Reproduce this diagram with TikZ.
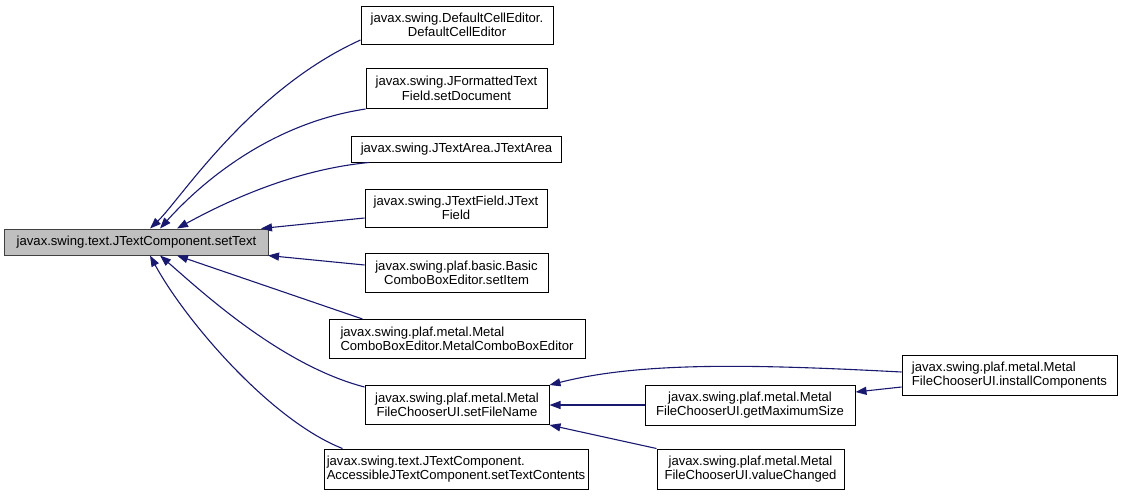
\documentclass[tikz,border=0pt]{standalone}
\usepackage{fontspec}
\setmainfont{Liberation Sans}
\usetikzlibrary{arrows.meta}
\definecolor{edgecol}{HTML}{191970}
\definecolor{rootfill}{HTML}{BFBFBF}
\begin{document}
\begin{tikzpicture}[x=1pt,y=-1pt,
  box/.style={draw=black, line width=1pt, fill=white, inner sep=0pt, align=center,
    font=\fontsize{13.1}{14.5}\selectfont},
  lbox/.style={box, align=left},
  edge/.style={draw=edgecol, line width=1.1pt, {Triangle[length=11pt,width=8pt]}-}
]
\useasboundingbox (0,0) rectangle (1123,496);
\node[box, fill=rootfill, draw=black!75, minimum width=264pt, minimum height=26pt] (root) at (136.5,242) {javax.swing.text.JTextComponent.setText};
\node[box, minimum width=192pt, minimum height=38pt] (n1) at (457,25) {javax.swing.DefaultCellEditor.\\DefaultCellEditor};
\node[box, minimum width=181pt, minimum height=40pt] (n2) at (456.5,88.5) {javax.swing.JFormattedText\\Field.setDocument};
\node[box, minimum width=210pt, minimum height=26pt] (n3) at (456.5,149) {javax.swing.JTextArea.JTextArea};
\node[box, minimum width=182pt, minimum height=38pt] (n4) at (456,208) {javax.swing.JTextField.JText\\Field};
\node[box, minimum width=183pt, minimum height=39pt] (n5) at (456.5,273) {javax.swing.plaf.basic.Basic\\ComboBoxEditor.setItem};
\node[lbox, minimum width=256pt, minimum height=39pt] (n6) at (457,339) {javax.swing.plaf.metal.Metal\\ComboBoxEditor.MetalComboBoxEditor};
\node[box, minimum width=184pt, minimum height=39pt] (n7) at (457,405) {javax.swing.plaf.metal.Metal\\FileChooserUI.setFileName};
\node[lbox, minimum width=264pt, minimum height=40pt] (n8) at (456,469) {javax.swing.text.JTextComponent.\\AccessibleJTextComponent.setTextContents};
\node[box, minimum width=210pt, minimum height=40pt] (n9) at (750,405) {javax.swing.plaf.metal.Metal\\FileChooserUI.getMaximumSize};
\node[box, minimum width=187pt, minimum height=40pt] (n10) at (750.5,469) {javax.swing.plaf.metal.Metal\\FileChooserUI.valueChanged};
\node[lbox, minimum width=215pt, minimum height=40pt] (n11) at (1009.5,375) {javax.swing.plaf.metal.Metal\\FileChooserUI.installComponents};

\coordinate (t1) at ([xshift=13.5pt]root.north);
\coordinate (t2) at ([xshift=23.5pt]root.north);
\coordinate (t3) at ([xshift=40.5pt]root.north);
\coordinate (t4) at ([xshift=-8pt]root.north east);
\coordinate (t5) at ([xshift=-1pt]root.south east);
\coordinate (b6) at ([xshift=40.5pt]root.south);
\coordinate (b7) at ([xshift=23.5pt]root.south);
\coordinate (b8) at ([xshift=13.5pt]root.south);

\draw[edge] (t1) .. controls (180,200) and (250,90) .. ([yshift=-15pt]n1.west);
\draw[edge] (t2) .. controls (190,195) and (260,125) .. (n2.south west);
\draw[edge] (t3) .. controls (220,205) and (290,170) .. ([xshift=18pt]n3.south west);
\draw[edge] (t4) -- ([yshift=-10pt]n4.west);
\draw[edge] (t5) -- ([yshift=8pt]n5.west);
\draw[edge] (b6) -- ([xshift=34pt]n6.north west);
\draw[edge] (b7) .. controls (200,290) and (280,365) .. ([yshift=18pt]n7.west);
\draw[edge] (b8) .. controls (185,320) and (270,420) .. ([xshift=19pt]n8.north west);
\draw[edge] (n7.north east) .. controls (640,362) and (750,364) .. ([yshift=3pt]n11.west);
\draw[edge] (n7.east) -- (n9.west);
\draw[edge] (n7.south east) -- (n10.north west);
\draw[edge] ([yshift=13pt]n9.east) -- ([yshift=-12pt]n11.west);
\end{tikzpicture}
\end{document}
